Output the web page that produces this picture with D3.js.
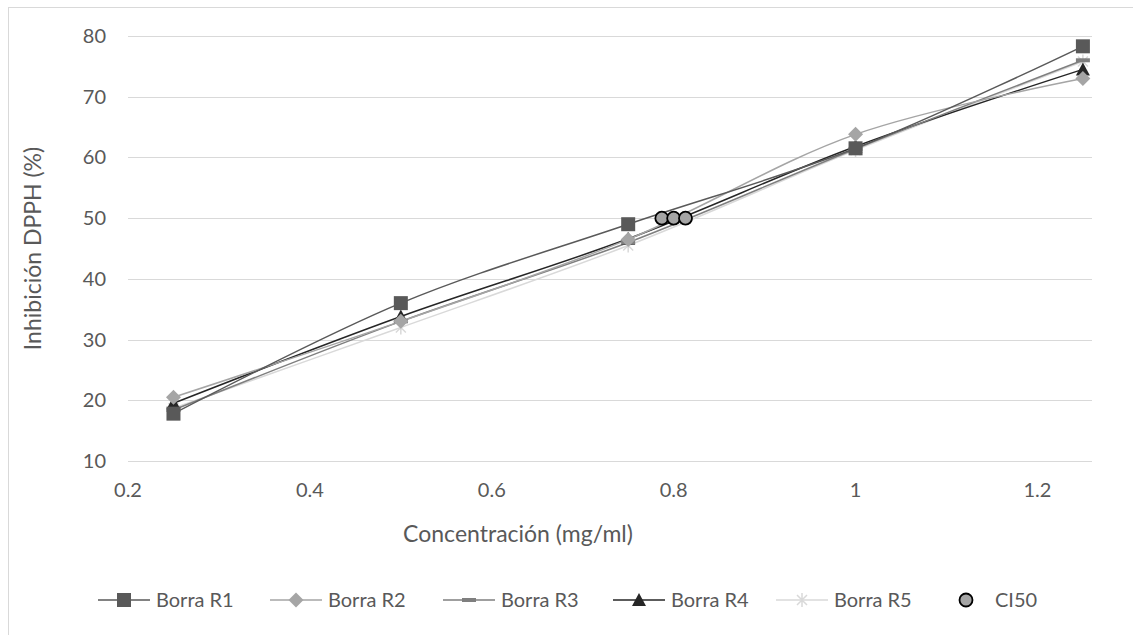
<!DOCTYPE html>
<html lang="es">
<head>
<meta charset="UTF-8">
<title>Inhibición DPPH</title>
<script src="https://d3js.org/d3.v7.min.js"></script>
<style>
  body { margin: 0; background: #fff; }
  svg { display: block; font-family: Lato, "Open Sans", sans-serif; }
</style>
</head>
<body>
<svg id="svg" width="1133" height="635"></svg>
<script>
  // datos
  var conc = [0.25, 0.5, 0.75, 1, 1.25];
  var r1 = [17.8, 36.0, 49.0, 61.5, 78.3];
  var r2 = [20.5, 33.0, 46.5, 63.8, 73.0];
  var r3 = [18.4, 33.0, 46.0, 61.4, 76.0];
  var r4 = [19.5, 33.8, 46.6, 61.8, 74.5];
  var r5 = [18.7, 32.0, 45.5, 61.2, 75.8];
  var ci50X = [0.787, 0.8, 0.813];
  var ci50Y = [50, 50, 50];
  var xTicks = [0.2, 0.4, 0.6, 0.8, 1, 1.2];
  var yTicks = [10, 20, 30, 40, 50, 60, 70, 80];

  var series = [
    { name: "Borra R1", values: r1, color: "#595959", marker: "square" },
    { name: "Borra R2", values: r2, color: "#a5a5a5", marker: "diamond" },
    { name: "Borra R3", values: r3, color: "#7f7f7f", marker: "dash" },
    { name: "Borra R4", values: r4, color: "#262626", marker: "triangle" },
    { name: "Borra R5", values: r5, color: "#d9d9d9", marker: "star" }
  ];

  var svg = d3.select("#svg");

  // borde del área del gráfico
  svg.append("rect")
    .attr("x", 8.5).attr("y", 7.5)
    .attr("width", 1140).attr("height", 640)
    .attr("fill", "none").attr("stroke", "#d9d9d9");

  var x = d3.scaleLinear().domain([0.2, 1.26]).range([128, 1092]);
  var y = d3.scaleLinear().domain([10, 80]).range([461, 36]);

  // rejilla
  svg.append("g")
    .selectAll("line")
    .data(yTicks)
    .enter().append("line")
    .attr("x1", x(0.2)).attr("x2", x(1.26))
    .attr("y1", function (d) { return Math.round(y(d)) + 0.5; })
    .attr("y2", function (d) { return Math.round(y(d)) + 0.5; })
    .attr("stroke", "#d9d9d9").attr("stroke-width", 1);

  // etiquetas de ejes
  svg.append("g")
    .selectAll("text")
    .data(yTicks)
    .enter().append("text")
    .attr("x", 106).attr("y", function (d) { return y(d); })
    .attr("dy", "0.35em").attr("text-anchor", "end")
    .attr("font-size", 20).attr("fill", "#595959")
    .text(function (d) { return d; });

  svg.append("g")
    .selectAll("text")
    .data(xTicks)
    .enter().append("text")
    .attr("x", function (d) { return x(d); }).attr("y", 497)
    .attr("text-anchor", "middle")
    .attr("font-size", 20).attr("fill", "#595959")
    .text(function (d) { return d; });

  svg.append("text")
    .attr("transform", "translate(41," + y(45) + ")rotate(-90)")
    .attr("text-anchor", "middle")
    .attr("font-size", 23).attr("fill", "#595959")
    .text("Inhibición DPPH (%)");

  svg.append("text")
    .attr("x", 518).attr("y", 542)
    .attr("text-anchor", "middle")
    .attr("font-size", 23).attr("fill", "#595959")
    .text("Concentración (mg/ml)");

  var line = d3.line()
    .x(function (d, i) { return x(conc[i]); })
    .y(function (d) { return y(d); })
    .curve(d3.curveCatmullRom.alpha(0.5));

  function drawMarker(g, type, color) {
    if (type === "square") {
      g.append("rect").attr("x", -7).attr("y", -7).attr("width", 14).attr("height", 14).attr("fill", color);
    } else if (type === "diamond") {
      g.append("path").attr("d", "M0,-7.5L7.5,0L0,7.5L-7.5,0Z").attr("fill", color);
    } else if (type === "dash") {
      g.append("rect").attr("x", -7).attr("y", -2).attr("width", 14).attr("height", 4).attr("fill", color);
    } else if (type === "triangle") {
      g.append("path").attr("d", "M0,-7L7,6L-7,6Z").attr("fill", color);
    } else if (type === "star") {
      g.append("path").attr("d", "M-5,-5L5,5M5,-5L-5,5M0,-7L0,7")
        .attr("stroke", color).attr("stroke-width", 1.5).attr("fill", "none");
    } else if (type === "circle") {
      g.append("circle").attr("r", 6.5).attr("fill", "#a5a5a5").attr("stroke", "#000").attr("stroke-width", 1.8);
    }
  }

  var plot = svg.append("g");
  // dibujar en orden inverso para que R1 quede arriba
  series.slice().reverse().forEach(function (s) {
    plot.append("path")
      .attr("d", line(s.values))
      .attr("fill", "none")
      .attr("stroke", s.color)
      .attr("stroke-width", 1.5);
  });
  series.slice().reverse().forEach(function (s) {
    s.values.forEach(function (v, i) {
      var m = plot.append("g").attr("transform", "translate(" + x(conc[i]) + "," + y(v) + ")");
      drawMarker(m, s.marker, s.color);
    });
  });

  ci50X.forEach(function (cx, i) {
    var m = plot.append("g").attr("transform", "translate(" + x(cx) + "," + y(ci50Y[i]) + ")");
    drawMarker(m, "circle");
  });

  // leyenda
  var legendItems = series.concat([{ name: "CI50", color: null, marker: "circle" }]);
  var legendX = [124, 296, 469, 639, 802, 966];
  var legend = svg.append("g")
    .selectAll("g")
    .data(legendItems)
    .enter().append("g")
    .attr("transform", function (d, i) { return "translate(" + legendX[i] + ",600)"; });

  legend.each(function (d) {
    var g = d3.select(this);
    if (d.color) {
      g.append("line").attr("x1", -26).attr("x2", 26)
        .attr("stroke", d.color).attr("stroke-width", 1.5);
    }
    drawMarker(g, d.marker, d.color);
    g.append("text")
      .attr("x", d.color ? 32 : 29).attr("dy", "0.35em")
      .attr("font-size", 20).attr("fill", "#595959")
      .text(d.name);
  });
</script>
</body>
</html>
